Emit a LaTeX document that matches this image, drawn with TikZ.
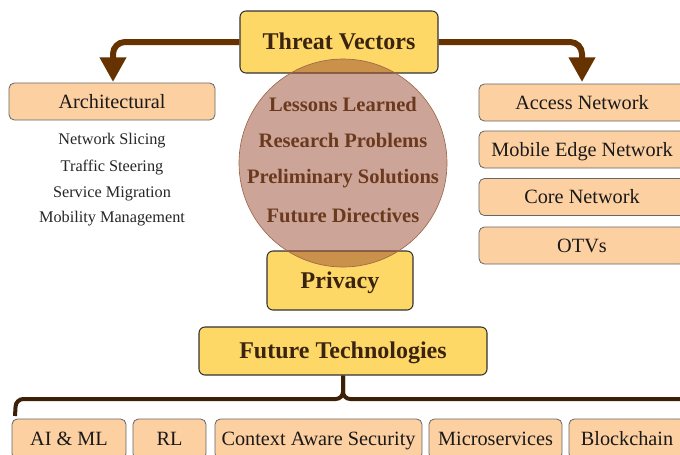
\documentclass[tikz,border=0pt]{standalone}
\usepackage{fontspec}
\setmainfont{Liberation Serif}
\usetikzlibrary{arrows.meta}
\definecolor{ybg}{HTML}{FDD866}
\definecolor{pbg}{HTML}{FDD0A2}
\definecolor{arrowbrown}{HTML}{663300}
\definecolor{darkbrown}{HTML}{3D2008}
\definecolor{titletext}{HTML}{3A2410}
\definecolor{circtext}{HTML}{6B3A1E}
\definecolor{circfill}{HTML}{994C32}
\definecolor{circedge}{HTML}{A0684A}
\begin{document}
\begin{tikzpicture}[x=0.75pt,y=-0.75pt,
  ybox/.style={draw=black!80, fill=ybg, rounded corners=4.5pt, line width=0.8pt, inner sep=0pt,
    text=titletext, font=\fontsize{18}{20}\selectfont\bfseries, text height=11.9pt, text depth=0pt},
  pbox/.style={draw=black!60, fill=pbg, rounded corners=4pt, line width=0.6pt, inner sep=0pt,
    minimum height=27.75pt, text=black!90, font=\fontsize{15.2}{17}\selectfont, text height=10pt, text depth=0pt},
  subitem/.style={inner sep=0pt, text=black!85, font=\fontsize{12.2}{14}\selectfont, text height=8pt, text depth=0pt},
  ctext/.style={inner sep=0pt, text=circtext, font=\fontsize{15.4}{17}\selectfont\bfseries, text height=10.2pt, text depth=0pt},
  bigarrow/.style={draw=arrowbrown, line width=4.5pt, rounded corners=9pt,
    -{Triangle[length=18.5pt,width=19pt]}},
  conn/.style={draw=darkbrown, line width=3pt, rounded corners=5.5pt},
]
\useasboundingbox (0,0) rectangle (680,454);
\clip (0,0) rectangle (680,454);

% main boxes
\node[ybox, minimum width=148.5pt, minimum height=46.5pt] (tv) at (339,42) {Threat Vectors};
\node[ybox, minimum width=109.5pt, minimum height=44.25pt] (pr) at (340,280.5) {Privacy};
\node[ybox, minimum width=216pt, minimum height=36pt] (ft) at (343,351) {Future Technologies};

% left branch
\node[pbox, minimum width=154.5pt] (arch) at (112,101.5) {Architectural};
\node[subitem] (s1) at (112,139.5) {Network Slicing};
\node[subitem] (s2) at (112,166) {Traffic Steering};
\node[subitem] (s3) at (112,192) {Service Migration};
\node[subitem] (s4) at (112,217.5) {Mobility Management};

% right branch
\node[pbox, minimum width=154.5pt] (an) at (582,102.5) {Access Network};
\node[pbox, minimum width=154.5pt] (men) at (582,149.5) {Mobile Edge Network};
\node[pbox, minimum width=154.5pt] (cn) at (582,197) {Core Network};
\node[pbox, minimum width=154.5pt] (otv) at (582,245.5) {OTVs};

% arrows
\coordinate (lt) at (113,82);
\coordinate (rt) at (582,82);
\draw[bigarrow] (tv.west) -| (lt);
\draw[bigarrow] (tv.east) -| (rt);

% circle
\node[circle, minimum size=156pt, inner sep=0pt, fill=circfill, fill opacity=0.5,
      draw=circedge, line width=0.5pt] (circ) at (343,163) {};
\node[ctext] (c1) at (343,105) {Lessons Learned};
\node[ctext] (c2) at (343,140.5) {Research Problems};
\node[ctext] (c3) at (343,176.5) {Preliminary Solutions};
\node[ctext] (c4) at (343,216) {Future Directives};

% bottom boxes
\node[pbox, minimum width=85.5pt, minimum height=30pt] (ai) at (69,439) {AI \& ML};
\node[pbox, minimum width=54.75pt, minimum height=30pt] (rl) at (169.5,439) {RL};
\node[pbox, minimum width=155.25pt, minimum height=30pt] (cas) at (318.5,439) {Context Aware Security};
\node[pbox, minimum width=99.75pt, minimum height=30pt] (ms) at (495.5,439) {Microservices};
\node[pbox, minimum width=87pt, minimum height=30pt] (bc) at (627,439) {Blockchain};

% bottom connector
\coordinate (bl) at (15,416);
\coordinate (br) at (700,399);
\draw[conn] (ft.south) |- (16,399) -- (bl);
\draw[conn] (ft.south) |- (br);
\end{tikzpicture}
\end{document}
